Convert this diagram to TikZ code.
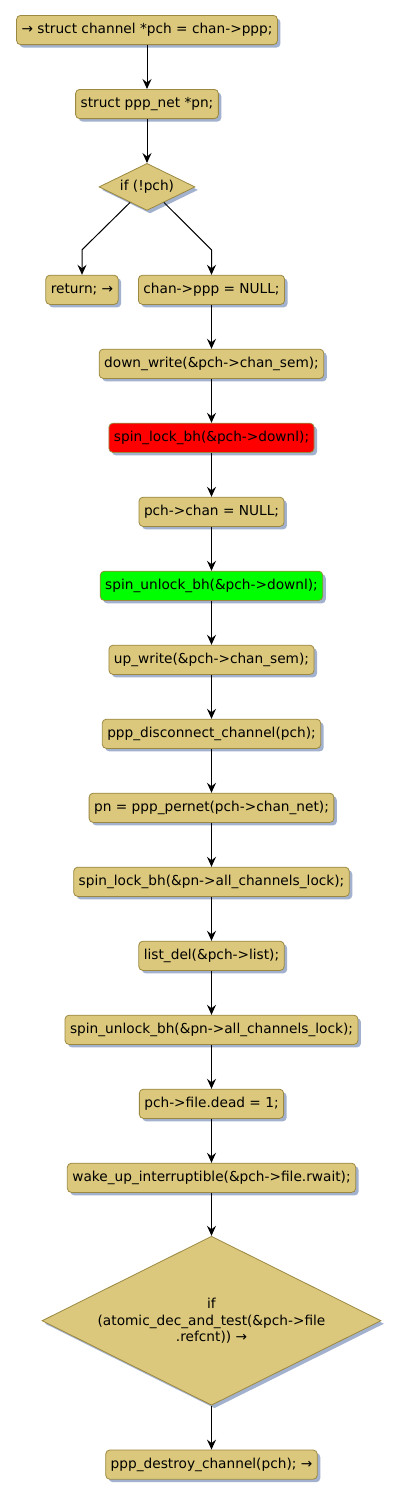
\documentclass[tikz,border=0pt]{standalone}
\usepackage{fontspec}
\setmainfont{DejaVu Sans}
\usetikzlibrary{arrows.meta, positioning, calc, shapes.geometric, shadows}

\definecolor{actfill}{RGB}{219,200,124}
\definecolor{actline}{RGB}{155,137,66}
\definecolor{actshadow}{RGB}{162,177,206}

\begin{document}
\begin{tikzpicture}[
    >={Stealth[length=10pt, width=9pt, inset=3.5pt]},
    node distance=44pt,
    font=\fontsize{13.7pt}{16.4pt}\selectfont,
    % Define styles for the different node types
    actbox/.style={rectangle, rounded corners=4pt, draw=actline, fill=actfill, line width=0.8pt, minimum height=29.2pt, inner xsep=5pt, inner ysep=2pt, drop shadow={shadow xshift=3pt, shadow yshift=-3pt, fill=actshadow, opacity=1}},
    redbox/.style={actbox, fill=red},
    greenbox/.style={actbox, fill=green},
    ifdiamond/.style={diamond, aspect=2, draw=actline, fill=actfill, line width=0.8pt, inner sep=0pt, align=center, drop shadow={shadow xshift=3pt, shadow yshift=-3pt, fill=actshadow, opacity=1}},
    flow/.style={->, line width=1pt},
]

\useasboundingbox (0,0) rectangle (400pt,-1500pt);

% -------------------------
% Entry and first test
% -------------------------
\node (pch) [actbox] at (147pt,-30pt) {→ struct channel *pch = chan->ppp;};
\node (pn) [actbox, below=of pch] {struct ppp\_net *pn;};
\node (ifpch) [ifdiamond, minimum width=96pt, minimum height=47pt, below=of pn] {if (!pch)};

\node (ret) [actbox, below=64pt of ifpch, xshift=-65pt] {return; →};
\node (chanppp) [actbox, below=64pt of ifpch, xshift=64.5pt] {chan->ppp = NULL;};

% -------------------------
% Main flow
% -------------------------
\node (downwrite) [actbox, below=of chanppp] {down\_write(\&pch->chan\_sem);};
\node (lockdownl) [redbox, below=of downwrite] {spin\_lock\_bh(\&pch->downl);};
\node (chanull) [actbox, below=of lockdownl] {pch->chan = NULL;};
\node (unlockdownl) [greenbox, below=of chanull] {spin\_unlock\_bh(\&pch->downl);};
\node (upwrite) [actbox, below=of unlockdownl] {up\_write(\&pch->chan\_sem);};
\node (disconnect) [actbox, below=of upwrite] {ppp\_disconnect\_channel(pch);};
\node (pernet) [actbox, below=of disconnect] {pn = ppp\_pernet(pch->chan\_net);};
\node (lockall) [actbox, below=of pernet] {spin\_lock\_bh(\&pn->all\_channels\_lock);};
\node (listdel) [actbox, below=of lockall] {list\_del(\&pch->list);};
\node (unlockall) [actbox, below=of listdel] {spin\_unlock\_bh(\&pn->all\_channels\_lock);};
\node (dead) [actbox, below=of unlockall] {pch->file.dead = 1;};
\node (wakeup) [actbox, below=of dead] {wake\_up\_interruptible(\&pch->file.rwait);};
\node (ifref) [ifdiamond, minimum width=339pt, minimum height=169pt, below=43pt of wakeup] {if\\(atomic\_dec\_and\_test(\&pch->file\\.refcnt)) →};
\node (destroy) [actbox, below=of ifref] {ppp\_destroy\_channel(pch); →};

% -------------------------
% Arrow Connections
% -------------------------
\draw[flow] (pch) -- (pn);
\draw[flow] (pn) -- (ifpch);

% Branches of if (!pch)
\coordinate (retbend) at ($(ret.north)+(0,25pt)$);
\coordinate (chanbend) at ($(chanppp.north)+(0,25pt)$);
\draw[flow] ($(ifpch.south)!0.35!(ifpch.west)$) -- (retbend) -- (ret.north);
\draw[flow] ($(ifpch.south)!0.35!(ifpch.east)$) -- (chanbend) -- (chanppp.north);

% Straight chain
\draw[flow] (chanppp) -- (downwrite);
\draw[flow] (downwrite) -- (lockdownl);
\draw[flow] (lockdownl) -- (chanull);
\draw[flow] (chanull) -- (unlockdownl);
\draw[flow] (unlockdownl) -- (upwrite);
\draw[flow] (upwrite) -- (disconnect);
\draw[flow] (disconnect) -- (pernet);
\draw[flow] (pernet) -- (lockall);
\draw[flow] (lockall) -- (listdel);
\draw[flow] (listdel) -- (unlockall);
\draw[flow] (unlockall) -- (dead);
\draw[flow] (dead) -- (wakeup);
\draw[flow] (wakeup) -- (ifref);
\draw[flow] (ifref) -- (destroy);

\end{tikzpicture}
\end{document}
